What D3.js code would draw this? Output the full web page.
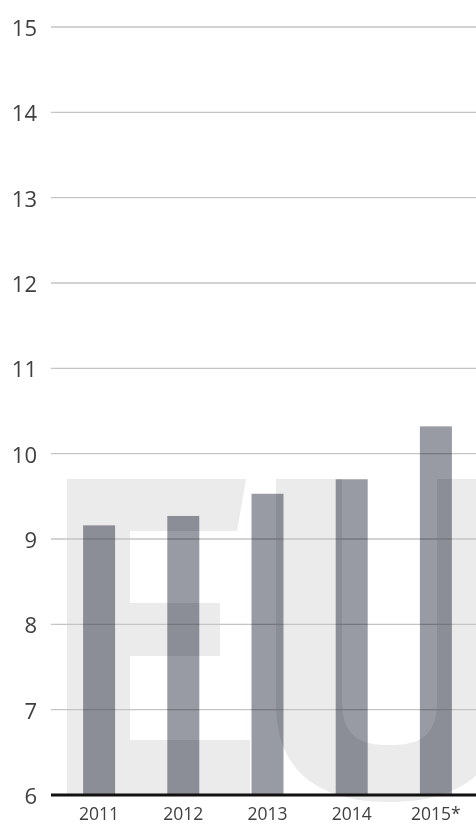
<!DOCTYPE html>
<html>
<head>
<meta charset="utf-8">
<script src="https://cdn.jsdelivr.net/npm/d3@7"></script>
<style>
  html, body { margin: 0; padding: 0; background: #fff; }
  svg { display: block; }
  .ylab { font-family: "Open Sans", "Noto Sans", sans-serif; font-size: 22px; fill: #404040; }
  .xlab { font-family: "Open Sans", "Noto Sans", sans-serif; font-size: 17.5px; fill: #404040; }
</style>
</head>
<body>
<svg id="chart" width="476" height="825"></svg>
<script>
// Yearly values (2015 is a forecast, marked with *)
const years = ["2011", "2012", "2013", "2014", "2015*"];
const values = [9.16, 9.27, 9.53, 9.70, 10.32];
const yTicks = [6, 7, 8, 9, 10, 11, 12, 13, 14, 15];

const W = 476, H = 825;
const svg = d3.select("#chart");

const x = d3.scaleBand()
  .domain(years)
  .range([57, 478])
  .paddingInner(0.62)
  .paddingOuter(0.31);

const y = d3.scaleLinear()
  .domain([6, 15])
  .range([795, 27]);

const left = 51;

// Background "EU" lettering
const wm = svg.append("g").attr("fill", "#ebebeb");
// E
wm.append("path").attr("d", [
  "M67,479", "L246,479", "L237,531", "L130,531", "L130,603", "L220,603",
  "L220,656", "L130,656", "L130,740", "L250,740", "L250,795", "L67,795", "Z"
].join(" "));
// U
(function () {
  const ox0 = 276, ox1 = 503, oBot = 802, oR = 98;
  const ix0 = 342, ix1 = 437, iBot = 745, iR = 42;
  const top = 479;
  const d = [
    `M${ox0},${top}`,
    `L${ix0},${top}`,
    `L${ix0},${iBot - iR}`,
    `Q${ix0},${iBot} ${ix0 + iR},${iBot}`,
    `L${ix1 - iR},${iBot}`,
    `Q${ix1},${iBot} ${ix1},${iBot - iR}`,
    `L${ix1},${top}`,
    `L${ox1},${top}`,
    `L${ox1},${oBot - oR}`,
    `C${ox1},${oBot - oR * 0.3} ${ox1 - oR * 0.45},${oBot} ${(ox0 + ox1) / 2},${oBot}`,
    `C${ox0 + oR * 0.45},${oBot} ${ox0},${oBot - oR * 0.3} ${ox0},${oBot - oR}`,
    "Z"
  ].join(" ");
  wm.append("path").attr("d", d);
})();

// Horizontal gridlines (the baseline is drawn separately)
svg.append("g")
  .selectAll("line")
  .data(yTicks.filter(t => t !== 6))
  .join("line")
  .attr("x1", left)
  .attr("x2", W)
  .attr("y1", d => y(d))
  .attr("y2", d => y(d))
  .attr("stroke", "#c4c4c4")
  .attr("stroke-width", 1.3);

// Bars
svg.append("g")
  .selectAll("rect")
  .data(values)
  .join("rect")
  .attr("x", (d, i) => x(years[i]))
  .attr("width", x.bandwidth())
  .attr("y", d => y(d))
  .attr("height", d => y(6) - y(d))
  .attr("fill", "#989aa4")
  .style("mix-blend-mode", "multiply");

// Baseline
svg.append("line")
  .attr("x1", left)
  .attr("x2", W)
  .attr("y1", y(6))
  .attr("y2", y(6))
  .attr("stroke", "#111")
  .attr("stroke-width", 3);

// Y labels
svg.append("g")
  .selectAll("text")
  .data(yTicks)
  .join("text")
  .attr("class", "ylab")
  .attr("x", 37)
  .attr("y", d => y(d))
  .attr("text-anchor", "end")
  .attr("dominant-baseline", "central")
  .text(d => d);

// X labels
svg.append("g")
  .selectAll("text")
  .data(years)
  .join("text")
  .attr("class", "xlab")
  .attr("x", d => x(d) + x.bandwidth() / 2)
  .attr("y", 820)
  .attr("text-anchor", "middle")
  .text(d => d);
</script>
</body>
</html>
